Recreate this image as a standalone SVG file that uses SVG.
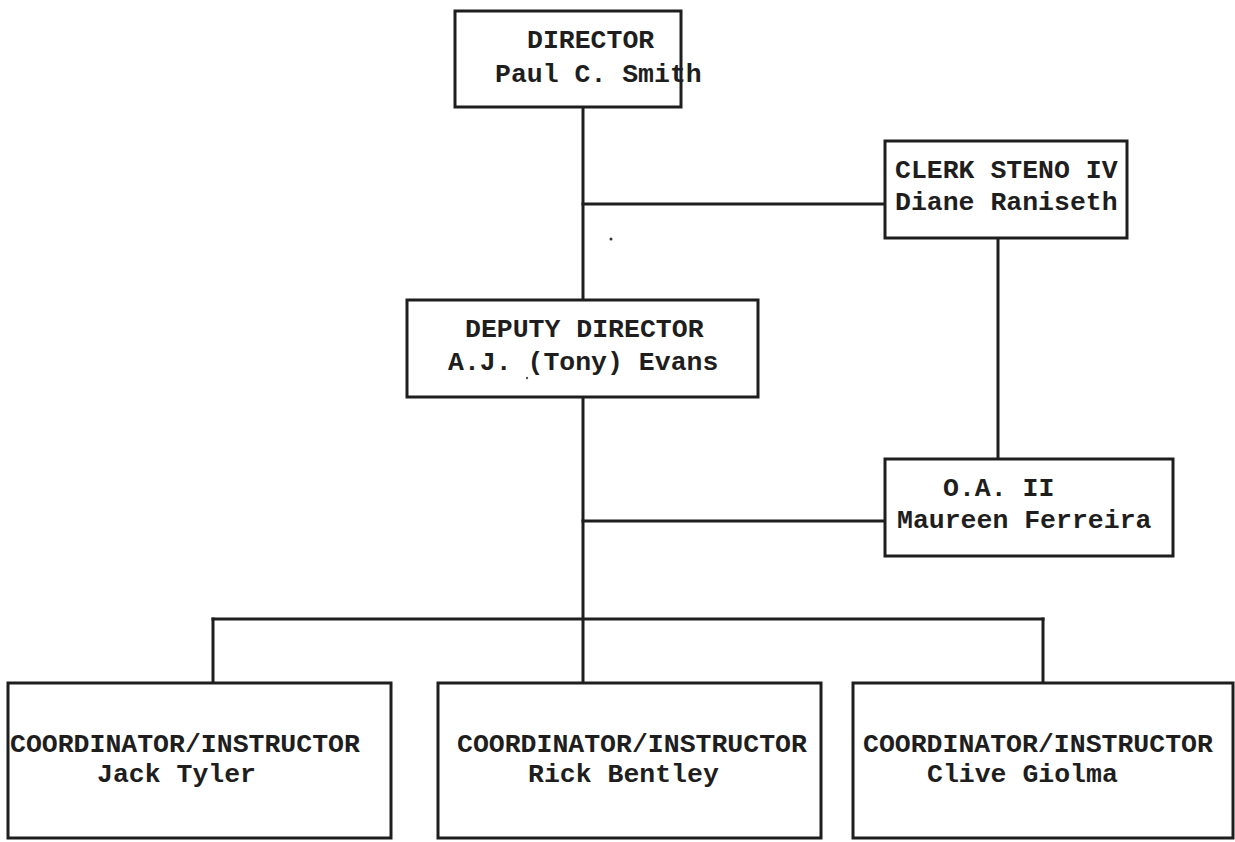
<svg xmlns="http://www.w3.org/2000/svg" width="1235" height="842" viewBox="0 0 1235 842">
  <style>
    .box { fill: #ffffff; stroke: #1e1e1e; stroke-width: 3; }
    .wire { fill: none; stroke: #1e1e1e; stroke-width: 3; stroke-linecap: square; }
    .label { font-family: "Liberation Mono", "Courier New", monospace; font-weight: bold; font-size: 26.5px; fill: #1e1e1e; }
  </style>
  <rect x="0" y="0" width="1235" height="842" fill="#ffffff"/>

  <!-- connectors -->
  <g id="connectors" class="wire">
    <line x1="583" y1="107" x2="583" y2="300"/>
    <line x1="583" y1="204" x2="885" y2="204"/>
    <line x1="998" y1="238" x2="998" y2="459"/>
    <line x1="583" y1="397" x2="583" y2="683"/>
    <line x1="583" y1="521" x2="885" y2="521"/>
    <line x1="213" y1="619" x2="1043" y2="619"/>
    <line x1="213" y1="619" x2="213" y2="683"/>
    <line x1="1043" y1="619" x2="1043" y2="683"/>
  </g>

  <g id="director">
    <rect class="box" x="455" y="11" width="226" height="96"/>
    <text class="label" x="527" y="48">DIRECTOR</text>
    <text class="label" x="495" y="82">Paul C. Smith</text>
  </g>

  <g id="clerk-steno">
    <rect class="box" x="885" y="141" width="242" height="97"/>
    <text class="label" x="895" y="178">CLERK STENO IV</text>
    <text class="label" x="895" y="210">Diane Raniseth</text>
  </g>

  <g id="deputy-director">
    <rect class="box" x="407" y="300" width="351" height="97"/>
    <text class="label" x="465" y="337">DEPUTY DIRECTOR</text>
    <text class="label" x="448" y="370">A.J. (Tony) Evans</text>
  </g>

  <g id="office-assistant">
    <rect class="box" x="885" y="459" width="288" height="97"/>
    <text class="label" x="943" y="496">O.A. II</text>
    <text class="label" x="897" y="528">Maureen Ferreira</text>
  </g>

  <g id="coordinator-tyler">
    <rect class="box" x="8" y="683" width="383" height="155"/>
    <text class="label" x="10" y="752">COORDINATOR/INSTRUCTOR</text>
    <text class="label" x="97" y="782">Jack Tyler</text>
  </g>

  <g id="coordinator-bentley">
    <rect class="box" x="438" y="683" width="383" height="155"/>
    <text class="label" x="457" y="752">COORDINATOR/INSTRUCTOR</text>
    <text class="label" x="528" y="782">Rick Bentley</text>
  </g>

  <g id="coordinator-giolma">
    <rect class="box" x="853" y="683" width="380" height="155"/>
    <text class="label" x="863" y="752">COORDINATOR/INSTRUCTOR</text>
    <text class="label" x="927" y="782">Clive Giolma</text>
  </g>

  <!-- small specks on the sheet -->
  <circle cx="611" cy="239" r="1.5" fill="#333"/>
  <circle cx="527" cy="378" r="1.2" fill="#555"/>
</svg>
